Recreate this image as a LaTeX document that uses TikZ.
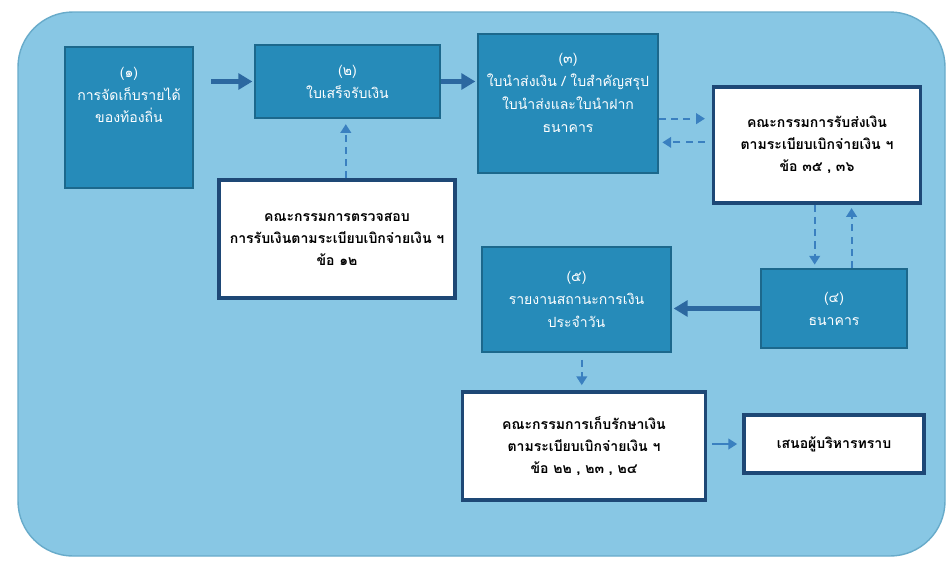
\documentclass[tikz,border=0pt]{standalone}
\usepackage{fontspec}
\setmainfont{Loma}[Script=Thai]
\usetikzlibrary{arrows.meta}
\definecolor{panelblue}{RGB}{136,199,228}
\definecolor{tealfill}{RGB}{38,139,185}
\definecolor{tealedge}{RGB}{28,104,140}
\definecolor{navyedge}{RGB}{30,72,118}
\definecolor{arrowblue}{RGB}{44,104,160}
\definecolor{dashblue}{RGB}{58,128,192}

\tikzset{
  tealbox/.style={draw=tealedge, line width=1pt, fill=tealfill, text=white,
    align=center, font=\fontsize{8}{13}\selectfont},
  whitebox/.style={draw=navyedge, line width=1.8pt, fill=white, text=black,
    align=center, font=\fontsize{8}{12.5}\selectfont\bfseries},
  boxtext/.style={text=white, align=center, font=\fontsize{8}{13}\selectfont},
  solidarrow/.style={draw=arrowblue, line width=2.6pt,
    -{Triangle[length=8pt,width=9pt]}},
  dasharrow/.style={draw=dashblue, line width=1.2pt, dash pattern=on 4pt off 3pt,
    -{Triangle[length=5pt,width=6pt]}},
}

\begin{document}
\begin{tikzpicture}[%
      x=0.02cm, y=-0.02cm,
      ]
      \useasboundingbox (0,0) rectangle (950,566);
      \fill [white] (0,0) rectangle (950,566);
      \draw [panelblue!70!tealedge, line width=0.8pt, fill=panelblue, rounded corners=1.1cm]
        (18,12) rectangle (945,556);

      \node (n1) [tealbox, minimum width=2.56cm, minimum height=2.82cm] at (129,117.5) {};
      \node (t1) [boxtext] at (129,95) {(๑)\\การจัดเก็บรายได้\\ของท้องถิ่น};
      \node (n2) [tealbox, minimum width=3.70cm, minimum height=1.46cm] at (347.5,81.5)
        {(๒)\\ใบเสร็จรับเงิน};
      \node (n3) [tealbox, minimum width=3.60cm, minimum height=2.78cm] at (568,103.5) {};
      \node (t3) [boxtext] at (568,93) {(๓)\\ใบนำส่งเงิน / ใบสำคัญสรุป\\ใบนำส่งและใบนำฝาก\\ธนาคาร};
      \node (n4) [tealbox, minimum width=2.92cm, minimum height=1.58cm] at (834,308.5)
        {(๔)\\ธนาคาร};
      \node (n5) [tealbox, minimum width=3.78cm, minimum height=2.10cm] at (576.5,299.5)
        {(๕)\\รายงานสถานะการเงิน\\ประจำวัน};

      \node (cA) [whitebox, minimum width=4.14cm, minimum height=2.32cm] at (817,145)
        {คณะกรรมการรับส่งเงิน\\ตามระเบียบเบิกจ่ายเงิน ฯ\\ข้อ ๓๕ , ๓๖};
      \node (cB) [whitebox, minimum width=4.72cm, minimum height=2.36cm] at (337,239)
        {คณะกรรมการตรวจสอบ\\การรับเงินตามระเบียบเบิกจ่ายเงิน ฯ\\ข้อ ๑๒};
      \node (cC) [whitebox, minimum width=4.86cm, minimum height=2.16cm] at (584,446)
        {คณะกรรมการเก็บรักษาเงิน\\ตามระเบียบเบิกจ่ายเงิน ฯ\\ข้อ ๒๒ , ๒๓ , ๒๔};
      \node (rp) [whitebox, minimum width=3.60cm, minimum height=1.16cm] at (834,444)
        {เสนอผู้บริหารทราบ};

      \draw [solidarrow, shorten <=10pt, shorten >=1pt] (n1.east |- n2.west) -- (n2.west);
      \draw [solidarrow, shorten >=1pt] (n2.east) -- (n3.west |- n2.east);
      \draw [dasharrow, shorten >=3pt] ([xshift=5pt]cB.north) -- ([xshift=5pt]cB.north |- n2.south);
      \draw [dasharrow, shorten >=4pt] ([yshift=15pt]cA.west -| n3.east) -- ([yshift=15pt]cA.west);
      \draw [dasharrow, shorten <=4pt, shorten >=2pt] ([yshift=1.5pt]cA.west) -- ([yshift=1.5pt]cA.west -| n3.east);
      \draw [dasharrow, shorten >=2pt] ([xshift=-11pt]cA.south -| n4.north) -- ([xshift=-11pt]n4.north);
      \draw [dasharrow, shorten >=2pt] ([xshift=10pt]n4.north) -- ([xshift=10pt]n4.north |- cA.south);
      \draw [solidarrow, shorten >=1pt] (n4.west) -- (n5.east |- n4.west);
      \draw [dasharrow, shorten <=4pt, shorten >=3pt] ([xshift=3pt]n5.south) -- ([xshift=3pt]n5.south |- cC.north);
      \draw [dasharrow, solid, shorten <=3pt, shorten >=3pt] (cC.east |- rp.west) -- (rp.west);
      \end{tikzpicture}
\end{document}
